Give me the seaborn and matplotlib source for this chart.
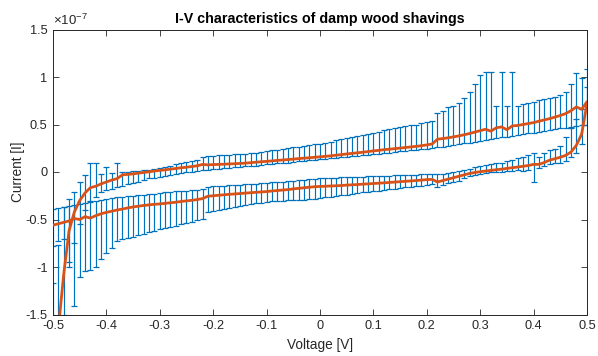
import matplotlib
matplotlib.use("Agg")
import numpy as np
import pandas as pd
import seaborn as sns
import matplotlib.pyplot as plt

# ---------------- data (current in units of 1e-7 A) ----------------
voltage = [-0.50, -0.49, -0.48, -0.47, -0.46, -0.45, -0.44, -0.43, -0.42, -0.41,
           -0.40, -0.39, -0.38, -0.37, -0.36, -0.35, -0.34, -0.33, -0.32, -0.31,
           -0.30, -0.29, -0.28, -0.27, -0.26, -0.25, -0.24, -0.23, -0.22, -0.21,
           -0.20, -0.19, -0.18, -0.17, -0.16, -0.15, -0.14, -0.13, -0.12, -0.11,
           -0.10, -0.09, -0.08, -0.07, -0.06, -0.05, -0.04, -0.03, -0.02, -0.01,
           0.00, 0.01, 0.02, 0.03, 0.04, 0.05, 0.06, 0.07, 0.08, 0.09,
           0.10, 0.11, 0.12, 0.13, 0.14, 0.15, 0.16, 0.17, 0.18, 0.19,
           0.20, 0.21, 0.22, 0.23, 0.24, 0.25, 0.26, 0.27, 0.28, 0.29,
           0.30, 0.31, 0.32, 0.33, 0.34, 0.35, 0.36, 0.37, 0.38, 0.39,
           0.40, 0.41, 0.42, 0.43, 0.44, 0.45, 0.46, 0.47, 0.48, 0.49,
           0.50]

# upper (return) branch
up_mean = [-2.5, -1.65, -1.08, -0.62, -0.42, -0.30, -0.22, -0.165, -0.15, -0.125,
           -0.105, -0.085, -0.07, -0.03, -0.025, -0.02, -0.012, -0.005, 0.003, 0.01,
           0.017, 0.023, 0.03, 0.037, 0.045, 0.05, 0.058, 0.065, 0.08, 0.075,
           0.078, 0.08, 0.082, 0.085, 0.087, 0.09, 0.093, 0.098, 0.103, 0.108,
           0.112, 0.117, 0.122, 0.126, 0.131, 0.136, 0.141, 0.146, 0.15, 0.155,
           0.16, 0.165, 0.17, 0.177, 0.183, 0.19, 0.196, 0.202, 0.208, 0.215,
           0.222, 0.228, 0.235, 0.24, 0.246, 0.252, 0.258, 0.264, 0.27, 0.277,
           0.285, 0.295, 0.345, 0.352, 0.36, 0.37, 0.38, 0.392, 0.405, 0.42,
           0.435, 0.45, 0.43, 0.465, 0.475, 0.445, 0.485, 0.49, 0.50, 0.51,
           0.52, 0.535, 0.548, 0.562, 0.578, 0.595, 0.615, 0.645, 0.685, 0.66,
           0.74]
up_high = [-1.17, -0.77, -0.37, -0.28, -0.21, -0.10, -0.03, 0.10, 0.10, -0.02,
           0.056, -0.01, 0.10, 0.00, 0.005, 0.01, 0.015, 0.02, 0.025, 0.03,
           0.04, 0.05, 0.06, 0.08, 0.10, 0.11, 0.12, 0.13, 0.155, 0.165,
           0.17, 0.175, 0.178, 0.182, 0.186, 0.19, 0.194, 0.198, 0.205, 0.212,
           0.22, 0.228, 0.235, 0.245, 0.25, 0.258, 0.265, 0.272, 0.28, 0.29,
           0.30, 0.31, 0.32, 0.335, 0.345, 0.355, 0.365, 0.375, 0.39, 0.40,
           0.41, 0.425, 0.44, 0.45, 0.46, 0.47, 0.48, 0.49, 0.50, 0.515,
           0.53, 0.54, 0.62, 0.64, 0.68, 0.70, 0.73, 0.775, 0.84, 0.93,
           1.02, 1.05, 1.05, 0.69, 1.05, 0.69, 1.05, 0.70, 0.715, 0.73,
           0.74, 0.755, 0.765, 0.775, 0.79, 0.81, 0.84, 0.93, 1.04, 0.985,
           1.08]
up_low = [-3.0, -2.2, -1.5, -1.0, -0.75, -0.55, -0.40, -0.30, -0.26, -0.215,
          -0.19, -0.175, -0.16, -0.145, -0.13, -0.115, -0.10, -0.085, -0.068, -0.058,
          -0.048, -0.04, -0.03, -0.022, -0.013, -0.005, 0.003, 0.012, 0.02, 0.025,
          0.03, 0.035, 0.04, 0.045, 0.05, 0.055, 0.06, 0.063, 0.068, 0.074,
          0.08, 0.085, 0.09, 0.095, 0.10, 0.106, 0.112, 0.118, 0.123, 0.128,
          0.133, 0.138, 0.144, 0.15, 0.155, 0.16, 0.166, 0.172, 0.177, 0.183,
          0.188, 0.194, 0.2, 0.205, 0.21, 0.216, 0.222, 0.228, 0.234, 0.24,
          0.246, 0.252, 0.26, 0.268, 0.276, 0.285, 0.294, 0.302, 0.31, 0.32,
          0.33, 0.338, 0.346, 0.355, 0.364, 0.372, 0.38, 0.39, 0.398, 0.406,
          0.415, 0.424, 0.432, 0.44, 0.45, 0.458, 0.466, 0.475, 0.484, 0.49,
          0.50]

# lower (forward) branch
low_mean = [-0.56, -0.545, -0.53, -0.515, -0.49, -0.50, -0.47, -0.485, -0.46, -0.44,
            -0.425, -0.413, -0.40, -0.39, -0.378, -0.368, -0.36, -0.352, -0.346, -0.34,
            -0.336, -0.33, -0.324, -0.318, -0.31, -0.304, -0.298, -0.29, -0.28, -0.255,
            -0.25, -0.245, -0.24, -0.235, -0.231, -0.227, -0.222, -0.218, -0.214, -0.21,
            -0.206, -0.2, -0.195, -0.19, -0.185, -0.178, -0.172, -0.166, -0.16, -0.155,
            -0.152, -0.15, -0.147, -0.145, -0.142, -0.138, -0.135, -0.132, -0.128, -0.125,
            -0.121, -0.118, -0.114, -0.11, -0.106, -0.102, -0.098, -0.094, -0.09, -0.085,
            -0.08, -0.078, -0.105, -0.09, -0.075, -0.06, -0.045, -0.03, -0.015, -0.005,
            0.003, 0.01, 0.017, 0.024, 0.03, 0.038, 0.045, 0.052, 0.06, 0.068,
            0.08, 0.08, 0.10, 0.125, 0.14, 0.155, 0.175, 0.21, 0.28, 0.40,
            0.72]
low_high = [-0.39, -0.38, -0.37, -0.36, -0.35, -0.34, -0.33, -0.32, -0.30, -0.29,
            -0.28, -0.275, -0.268, -0.262, -0.255, -0.25, -0.245, -0.24, -0.235, -0.23,
            -0.225, -0.215, -0.21, -0.205, -0.2, -0.195, -0.19, -0.185, -0.175, -0.155,
            -0.152, -0.148, -0.145, -0.142, -0.138, -0.135, -0.13, -0.126, -0.122, -0.118,
            -0.114, -0.11, -0.105, -0.1, -0.095, -0.09, -0.085, -0.08, -0.075, -0.07,
            -0.067, -0.064, -0.06, -0.058, -0.056, -0.054, -0.052, -0.05, -0.048, -0.046,
            -0.044, -0.042, -0.04, -0.038, -0.036, -0.034, -0.032, -0.03, -0.028, -0.026,
            -0.024, -0.02, -0.025, -0.02, -0.01, 0.0, 0.01, 0.02, 0.035, 0.05,
            0.06, 0.07, 0.08, 0.09, 0.10, 0.12, 0.13, 0.15, 0.16, 0.175,
            0.20, 0.16, 0.20, 0.23, 0.24, 0.27, 0.37, 0.46, 0.56, 0.66,
            0.90]
low_low = [-0.78, -0.73, -0.71, -0.95, -1.41, -1.10, -1.04, -1.03, -1.0, -0.92,
           -0.85, -0.80, -0.73, -0.70, -0.69, -0.68, -0.665, -0.65, -0.635, -0.62,
           -0.605, -0.59, -0.578, -0.565, -0.55, -0.538, -0.525, -0.51, -0.49, -0.42,
           -0.41, -0.40, -0.39, -0.375, -0.365, -0.355, -0.345, -0.337, -0.33, -0.322,
           -0.315, -0.31, -0.305, -0.30, -0.298, -0.296, -0.294, -0.29, -0.285, -0.28,
           -0.275, -0.268, -0.26, -0.252, -0.245, -0.238, -0.23, -0.222, -0.215, -0.208,
           -0.2, -0.195, -0.188, -0.182, -0.176, -0.17, -0.163, -0.156, -0.15, -0.143,
           -0.137, -0.13, -0.16, -0.14, -0.12, -0.105, -0.09, -0.06, -0.04, -0.03,
           -0.02, -0.012, -0.005, 0.0, 0.005, 0.01, 0.015, 0.02, 0.01, 0.02,
           -0.10, 0.04, 0.06, 0.08, 0.09, 0.10, 0.12, 0.16, 0.20, 0.30,
           0.50]

x_ticks = [-0.5, -0.4, -0.3, -0.2, -0.1, 0.0, 0.1, 0.2, 0.3, 0.4, 0.5]
x_tick_labels = ["-0.5", "-0.4", "-0.3", "-0.2", "-0.1", "0", "0.1", "0.2", "0.3", "0.4", "0.5"]
y_ticks = [-1.5, -1.0, -0.5, 0.0, 0.5, 1.0, 1.5]
y_tick_labels = ["-1.5", "-1", "-0.5", "0", "0.5", "1", "1.5"]

title = "I-V characteristics of damp wood shavings"
x_label = "Voltage [V]"
y_label = "Current [I]"

# ---------------- style ----------------
sns.set_style("ticks")
plt.rcParams["font.family"] = ["Liberation Sans", "DejaVu Sans"]
plt.rcParams["mathtext.default"] = "regular"

BLUE = "#0072BD"
ORANGE = "#D95319"
AXC = "#262626"

fig = plt.figure(figsize=(5.98, 3.56), dpi=100)
ax = fig.add_axes([53 / 598, 1 - 314.5 / 356, 534 / 598, 285 / 356])

v = np.array(voltage)
for m, hi, lo in [(up_mean, up_high, up_low), (low_mean, low_high, low_low)]:
    m = np.array(m); hi = np.array(hi); lo = np.array(lo)
    ax.errorbar(v, m, yerr=[m - lo, hi - m], fmt="none", ecolor=BLUE,
                elinewidth=0.85, capsize=2.0, capthick=0.9, zorder=2)

df = pd.DataFrame({
    "voltage": voltage + voltage,
    "current": up_mean + low_mean,
    "branch": ["up"] * len(voltage) + ["down"] * len(voltage),
})
sns.lineplot(data=df, x="voltage", y="current", hue="branch",
             palette=[ORANGE, ORANGE], estimator=None, sort=False,
             linewidth=2.0, legend=False, ax=ax, zorder=3)

ax.set_xlim(-0.5, 0.5)
ax.set_ylim(-1.5, 1.5)
ax.set_xticks(x_ticks)
ax.set_xticklabels(x_tick_labels)
ax.set_yticks(y_ticks)
ax.set_yticklabels(y_tick_labels)
ax.tick_params(direction="in", top=True, right=True, length=4, width=0.6,
               colors=AXC, labelsize=9.2, pad=4)
for s in ax.spines.values():
    s.set_visible(True)
    s.set_linewidth(0.7)
    s.set_color(AXC)

ax.set_xlabel(x_label, fontsize=9.8, color=AXC, labelpad=4)
ax.set_ylabel(y_label, fontsize=9.8, color=AXC, labelpad=0.5)
ax.set_title(title, fontsize=10.3, fontweight="bold", color="black", pad=5)
ax.text(0.0, 1.006, r"$\times10^{-7}$", transform=ax.transAxes, fontsize=9.5,
        color=AXC, ha="left", va="bottom")

fig.savefig("out.png", dpi=100)
